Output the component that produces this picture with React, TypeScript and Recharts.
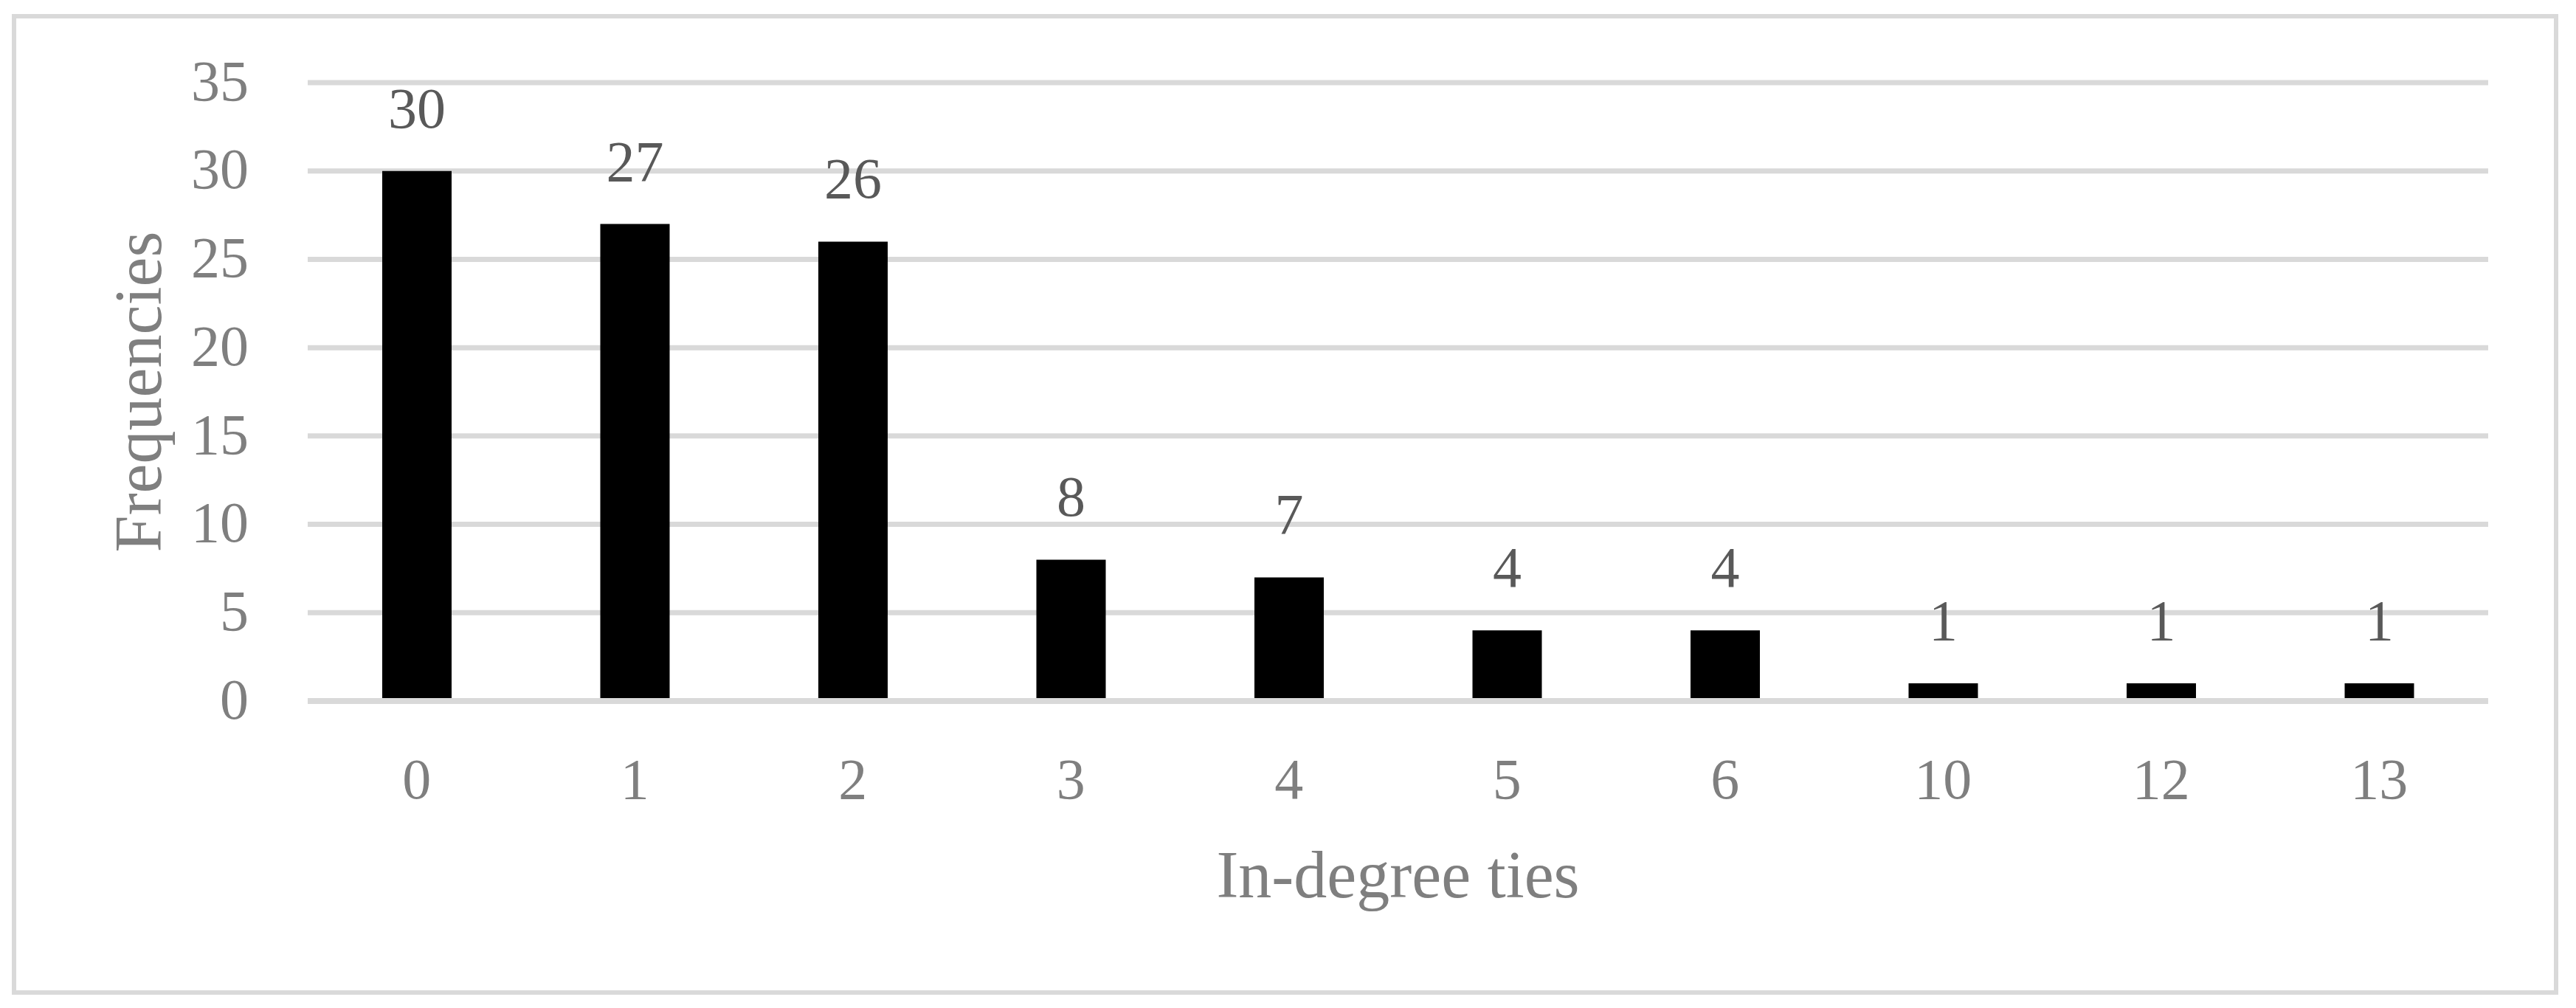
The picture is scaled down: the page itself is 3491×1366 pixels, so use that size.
import { BarChart, Bar, XAxis, YAxis, CartesianGrid, LabelList, ReferenceLine } from "recharts"

const categories = ["0", "1", "2", "3", "4", "5", "6", "10", "12", "13"]
const frequencies = [30, 27, 26, 8, 7, 4, 4, 1, 1, 1]
const yTicks = [0, 5, 10, 15, 20, 25, 30, 35]

const data = categories.map((c, i) => ({ ties: c, freq: frequencies[i] }))

const FONT = "'Liberation Serif', 'Times New Roman', serif"
const GRID = "#d9d9d9"

export default function App() {
  return (
    <div style={{ position: "absolute", left: 0, top: 0, width: 3491, height: 1366, background: "#fff", fontFamily: FONT }}>
      {/* outer frame */}
      <div
        style={{
          position: "absolute",
          left: 16,
          top: 19,
          width: 3451,
          height: 1329,
          border: `6px solid ${GRID}`,
          boxSizing: "border-box",
        }}
      />
      <div style={{ position: "absolute", left: 0, top: 0 }}>
        <BarChart
          width={3491}
          height={1366}
          data={data}
          margin={{ top: 112, right: 119, bottom: 0, left: 0 }}
          style={{ fontFamily: FONT }}
        >
          <CartesianGrid vertical={false} stroke={GRID} strokeWidth={7} />
          <XAxis
            dataKey="ties"
            type="category"
            axisLine={false}
            tickLine={false}
            tickSize={0}
            tickMargin={77}
            height={416}
            tick={{ fill: "#7f7f7f", fontSize: 78, fontFamily: FONT }}
            label={{
              value: "In-degree ties",
              position: "insideBottom",
              offset: 150,
              fill: "#7f7f7f",
              fontSize: 90,
              fontFamily: FONT,
            }}
          />
          <YAxis
            domain={[0, 35]}
            ticks={yTicks}
            interval={0}
            axisLine={false}
            tickLine={false}
            tickSize={0}
            tickMargin={80}
            width={417}
            tick={{ fill: "#7f7f7f", fontSize: 78, fontFamily: FONT, dy: -4 }}
            label={{
              value: "Frequencies",
              angle: -90,
              position: "center",
              dx: -22,
              fill: "#7f7f7f",
              fontSize: 90,
              fontFamily: FONT,
            }}
          />
          <Bar dataKey="freq" fill="#000000" barSize={94} isAnimationActive={false}>
            <LabelList
              dataKey="freq"
              position="top"
              offset={59}
              fill="#595959"
              fontSize={78}
              fontFamily={FONT}
            />
          </Bar>
          <ReferenceLine y={0} stroke={GRID} strokeWidth={8} />
        </BarChart>
      </div>
    </div>
  )
}
